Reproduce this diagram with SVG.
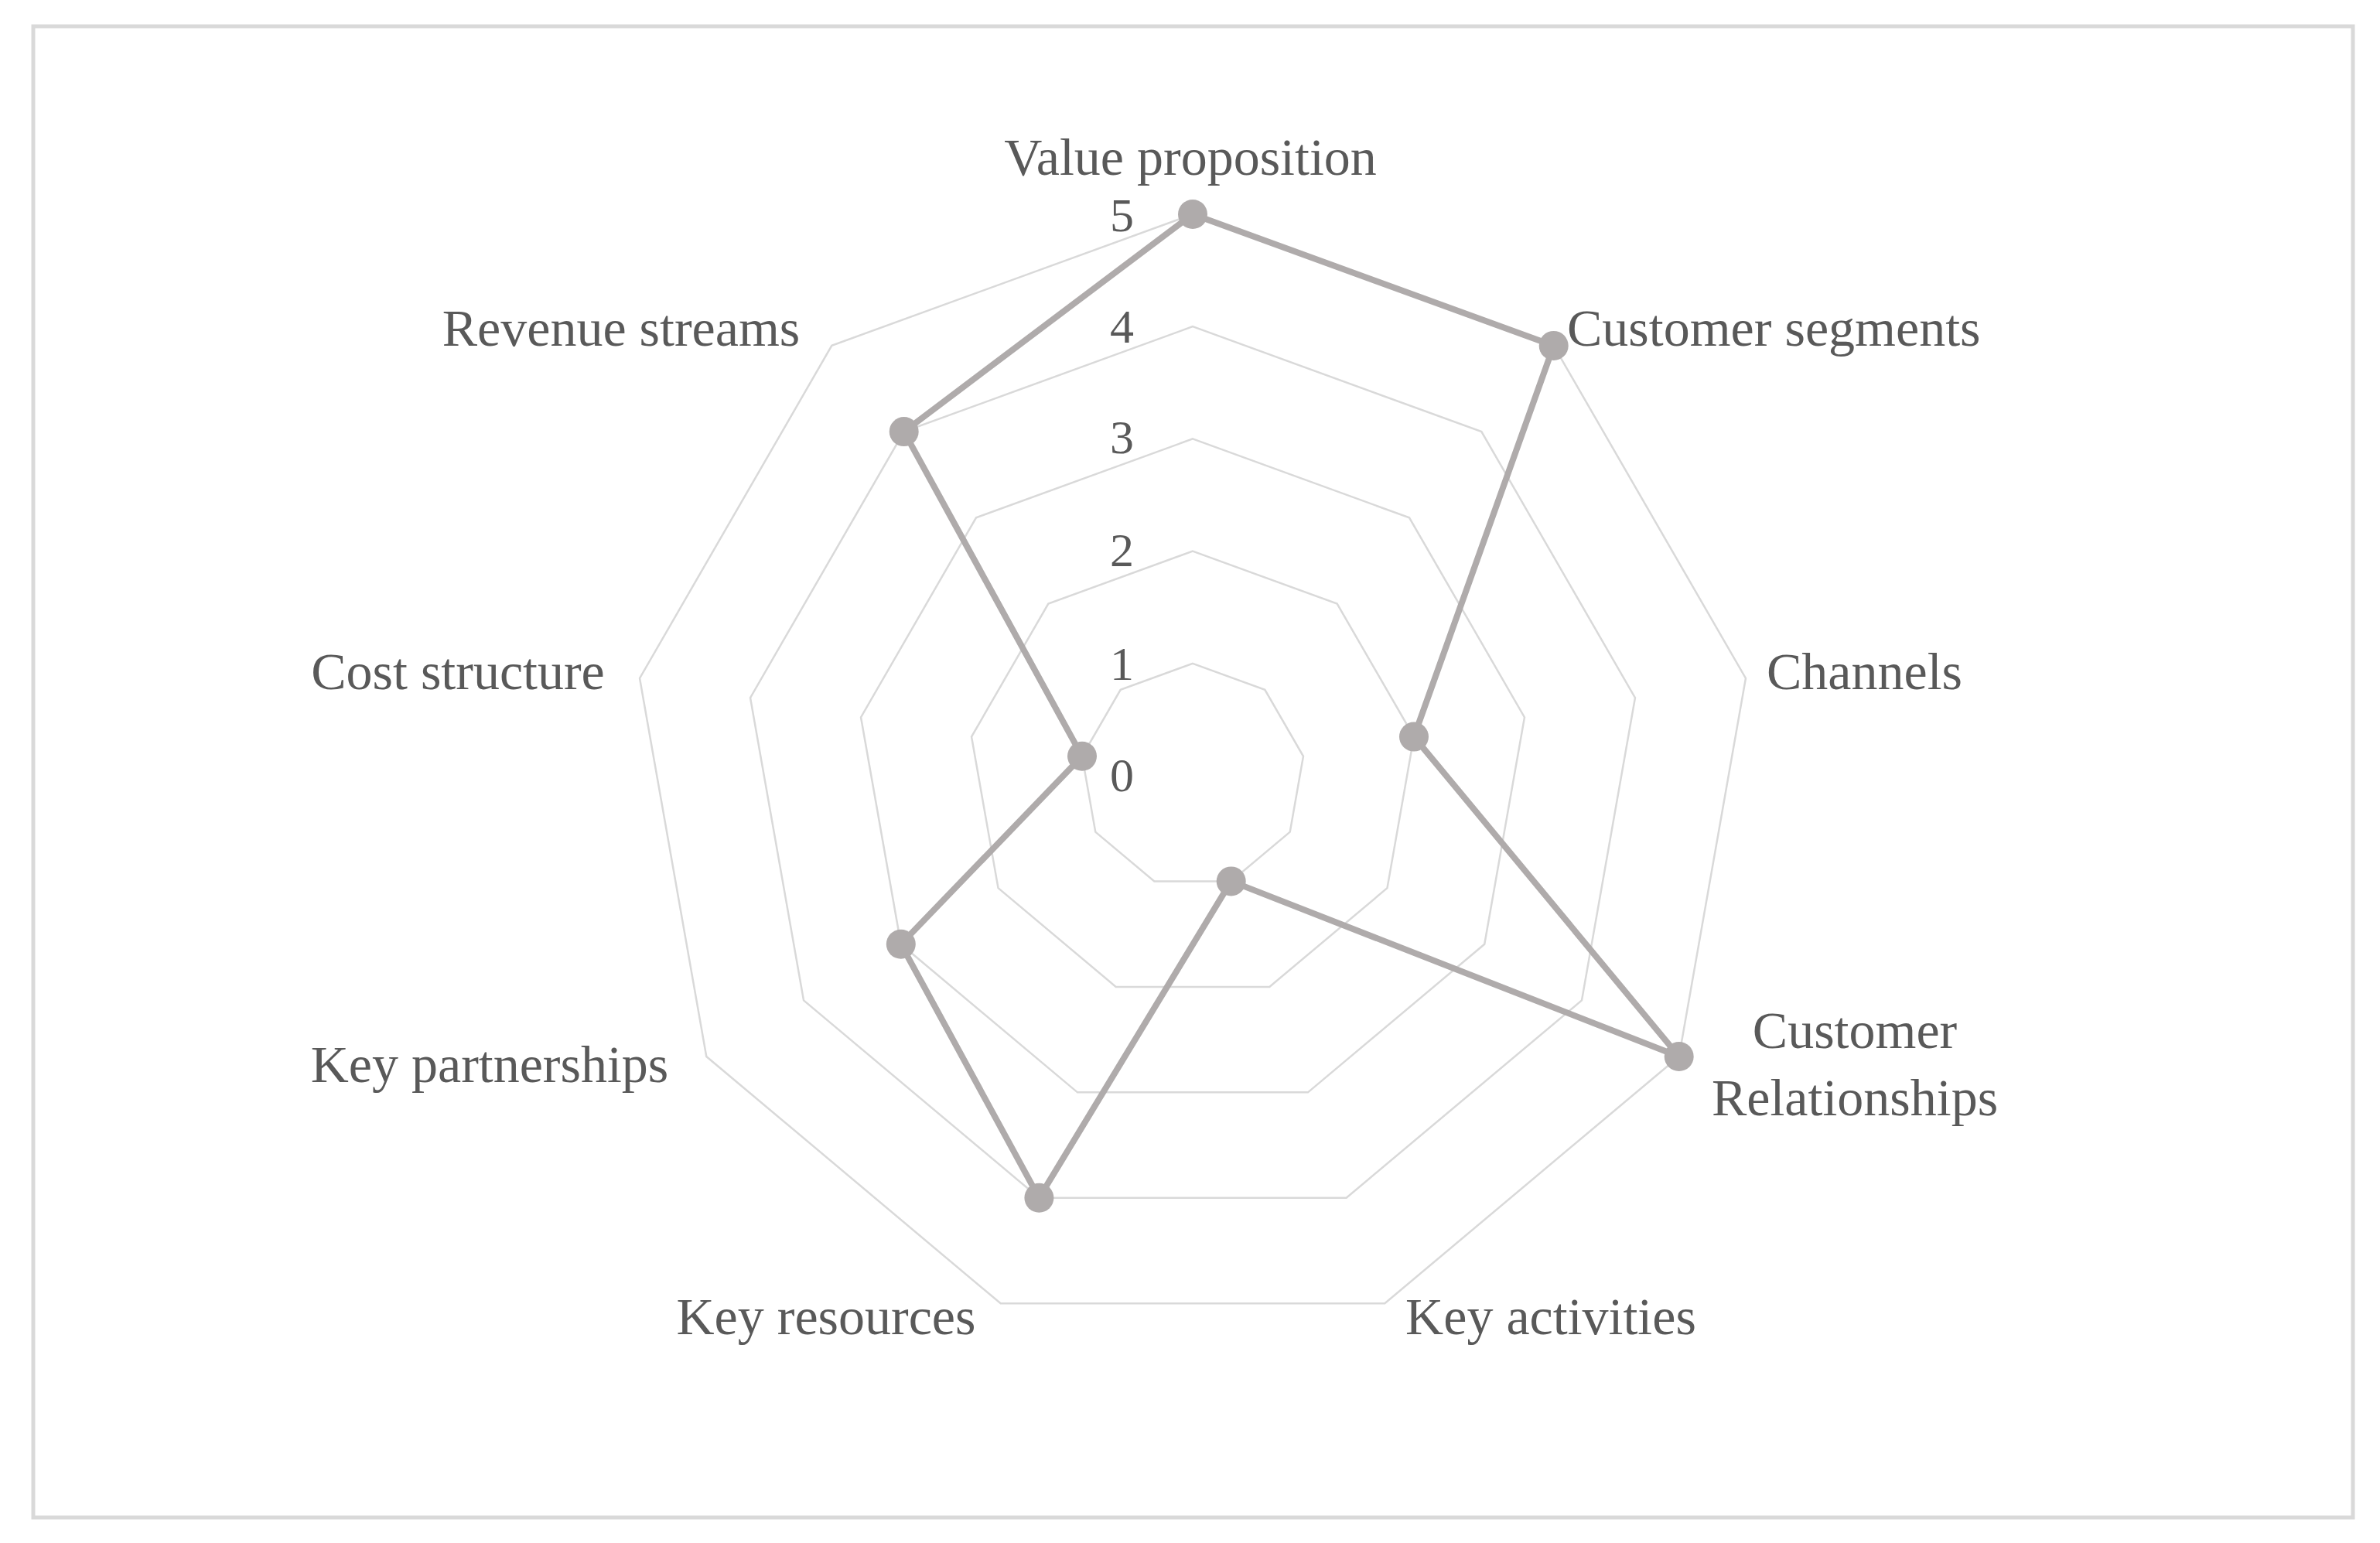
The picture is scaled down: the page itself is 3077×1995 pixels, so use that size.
<svg xmlns="http://www.w3.org/2000/svg" width="3077" height="1995" viewBox="0 0 3077 1995">
<style>
.ring{fill:none;stroke:#d9d9d9;stroke-width:2.5}
.lbl{font-family:"Liberation Serif",serif;font-size:68px;fill:#595959}
.num{font-family:"Liberation Serif",serif;font-size:62px;fill:#595959;text-anchor:end}
.dot{fill:#afabab}
</style>
<defs>
<polygon id="u" points="0,-1 0.6428,-0.7660 0.9848,-0.1736 0.8660,0.5 0.3420,0.9397 -0.3420,0.9397 -0.8660,0.5 -0.9848,-0.1736 -0.6428,-0.7660"/>
</defs>
<rect x="0" y="0" width="3077" height="1995" fill="#fff"/>
<rect x="43" y="34" width="2999" height="1928" fill="#fff" stroke="#d9d9d9" stroke-width="5"/>
<g id="grid">
<use href="#u" class="ring" transform="translate(1542,1003) scale(145.2)" vector-effect="non-scaling-stroke" style="stroke-width:0.0172"/>
<use href="#u" class="ring" transform="translate(1542,1003) scale(290.4)" style="stroke-width:0.0086"/>
<use href="#u" class="ring" transform="translate(1542,1003) scale(435.6)" style="stroke-width:0.00574"/>
<use href="#u" class="ring" transform="translate(1542,1003) scale(580.8)" style="stroke-width:0.0043"/>
<use href="#u" class="ring" transform="translate(1542,1003) scale(726)" style="stroke-width:0.00344"/>
</g>
<g id="scale">
<text class="num" x="1466" y="299">5</text>
<text class="num" x="1466" y="443">4</text>
<text class="num" x="1466" y="586">3</text>
<text class="num" x="1466" y="732">2</text>
<text class="num" x="1466" y="879">1</text>
<text class="num" x="1466" y="1023">0</text>
</g>
<g id="connectors">
<polygon points="1542,277 2008.7,446.9 1828,952.6 2170.7,1366 1591.7,1139.4 1343.4,1548.8 1164.8,1220.8 1399,977.8 1168.7,558.1" fill="none" stroke="#afabab" stroke-width="8" stroke-linejoin="round"/>
</g>
<g id="points">
<circle class="dot" cx="1542" cy="277" r="19"/>
<circle class="dot" cx="2008.7" cy="446.9" r="19"/>
<circle class="dot" cx="1828" cy="952.6" r="19"/>
<circle class="dot" cx="2170.7" cy="1366" r="19"/>
<circle class="dot" cx="1591.7" cy="1139.4" r="19"/>
<circle class="dot" cx="1343.4" cy="1548.8" r="19"/>
<circle class="dot" cx="1164.8" cy="1220.8" r="19"/>
<circle class="dot" cx="1399" cy="977.8" r="19"/>
<circle class="dot" cx="1168.7" cy="558.1" r="19"/>
</g>
<g id="n-vp"><text class="lbl" x="1539" y="226" text-anchor="middle">Value proposition</text></g>
<g id="n-cs"><text class="lbl" x="2026" y="447">Customer segments</text></g>
<g id="n-ch"><text class="lbl" x="2284" y="891">Channels</text></g>
<g id="n-cr"><text class="lbl" x="2398" y="1355" text-anchor="middle">Customer</text><text class="lbl" x="2398" y="1442" text-anchor="middle">Relationships</text></g>
<g id="n-ka"><text class="lbl" x="2005" y="1725" text-anchor="middle">Key activities</text></g>
<g id="n-kr"><text class="lbl" x="1068" y="1725" text-anchor="middle">Key resources</text></g>
<g id="n-kp"><text class="lbl" x="633" y="1399" text-anchor="middle">Key partnerships</text></g>
<g id="n-cost"><text class="lbl" x="592" y="891" text-anchor="middle">Cost structure</text></g>
<g id="n-rs"><text class="lbl" x="803" y="447" text-anchor="middle">Revenue streams</text></g>
</svg>
